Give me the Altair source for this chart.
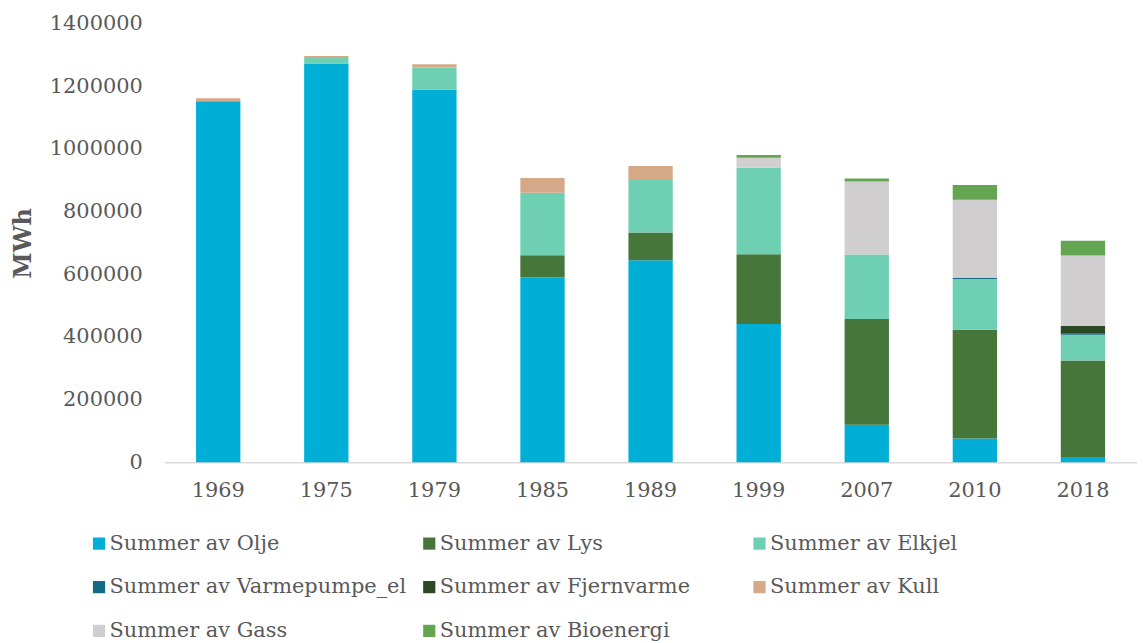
import altair as alt
import pandas as pd

years = ["1969", "1975", "1979", "1985", "1989", "1999", "2007", "2010", "2018"]
series = ["Summer av Olje", "Summer av Lys", "Summer av Elkjel", "Summer av Varmepumpe_el",
          "Summer av Fjernvarme", "Summer av Kull", "Summer av Gass", "Summer av Bioenergi"]
colors = ["#00AED6", "#46763A", "#6ECFB2", "#136A85", "#2B4724", "#D5A988", "#D0CECE", "#63A550"]

olje = [1152000, 1273000, 1190000, 590000, 645000, 441000, 120000, 76000, 17000]
lys = [0, 0, 0, 71000, 88000, 223000, 337000, 347000, 308000]
elkjel = [0, 17000, 70000, 199000, 168000, 276000, 206000, 162000, 82000]
varmepumpe = [0, 0, 0, 0, 0, 0, 0, 3000, 3000]
fjernvarme = [0, 0, 0, 0, 0, 0, 0, 0, 25000]
kull = [9500, 7000, 10000, 47600, 44500, 0, 0, 0, 0]
gass = [0, 0, 0, 0, 0, 32000, 233000, 250000, 225000]
bioenergi = [0, 0, 0, 0, 0, 8500, 9500, 47000, 47000]

values = [olje, lys, elkjel, varmepumpe, fjernvarme, kull, gass, bioenergi]
rows = []
for si, (name, vals) in enumerate(zip(series, values)):
    for y, v in zip(years, vals):
        rows.append({"year": y, "serie": name, "value": v, "rank": si})
df = pd.DataFrame(rows)

FONT = "DejaVu Serif"
GREY = "#595959"

chart = alt.Chart(df).mark_bar().encode(
    x=alt.X("year:N", sort=years,
            scale=alt.Scale(paddingInner=0.59, paddingOuter=0.295),
            axis=alt.Axis(title=None, labelAngle=0, ticks=False, domainColor="#D9D9D9",
                          domainWidth=1.5, labelFontSize=21, labelColor=GREY, labelFont=FONT,
                          labelPadding=17, grid=False)),
    y=alt.Y("value:Q", stack="zero",
            scale=alt.Scale(domain=[0, 1400000], nice=False),
            axis=alt.Axis(title="MWh", values=list(range(0, 1400001, 200000)), format="d",
                          grid=False, domain=False, ticks=False, labelFontSize=21,
                          labelColor=GREY, labelFont=FONT, labelPadding=22,
                          titleFont=FONT, titleFontSize=24, titleFontWeight="bold",
                          titleColor=GREY, titlePadding=14)),
    color=alt.Color("serie:N", sort=series,
                    scale=alt.Scale(domain=series, range=colors),
                    legend=alt.Legend(title=None, orient="none", legendX=-76, legendY=512,
                                      direction="horizontal",
                                      columns=3, gridAlign="all", columnPadding=12,
                                      rowPadding=22, symbolType="square", symbolSize=150,
                                      symbolStrokeWidth=0, labelFontSize=21,
                                      labelFont=FONT, labelColor=GREY, labelOffset=0,
                                      labelLimit=400)),
    order=alt.Order("rank:Q", sort="ascending"),
).properties(
    width=978, height=441,
    autosize=alt.AutoSizeParams(type="none"),
    padding={"left": 157, "top": 14, "right": 0, "bottom": 185},
).configure_view(stroke=None)

chart.save("out.html", embed_options={"renderer": "svg", "actions": False})
